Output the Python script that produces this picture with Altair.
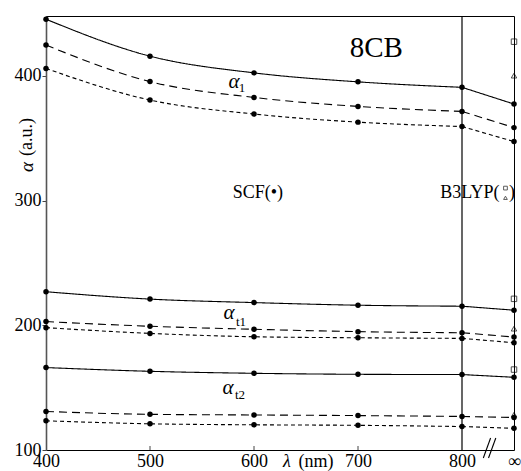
import altair as alt
import pandas as pd

FONT = "Liberation Serif, Times New Roman, Times, serif"

# ---------------- data ----------------
wavelengths = [400, 500, 600, 700, 800]
INF_POS = 850  # axis position used for the "infinity" column

series_names = ["a1_solid", "a1_dash", "a1_dot",
                "at1_solid", "at1_dash", "at1_dot",
                "at2_solid", "at2_dash", "at2_dot"]
series_styles = ["solid", "dashed", "dotted"] * 3

a1_solid = [445.4, 415.8, 402.4, 395.2, 390.8]
a1_dash = [424.7, 395.4, 382.7, 375.5, 371.5]
a1_dot = [405.9, 380.6, 369.4, 362.9, 359.4]
at1_solid = [226.9, 221.0, 218.2, 216.1, 215.3]
at1_dash = [203.0, 199.2, 196.8, 194.9, 194.0]
at1_dot = [198.1, 193.5, 190.8, 190.0, 189.5]
at2_solid = [166.1, 163.1, 161.5, 160.7, 160.5]
at2_dash = [130.9, 128.6, 128.1, 127.6, 126.9]
at2_dot = [123.4, 121.0, 120.2, 119.8, 118.8]
series_values = [a1_solid, a1_dash, a1_dot, at1_solid, at1_dash, at1_dot,
                 at2_solid, at2_dash, at2_dot]
inf_values = [377.4, 358.5, 347.3, 212.1, 190.6, 186.0, 158.3, 126.1, 117.4]

b3lyp_square = [427.4, 221.2, 164.5]
b3lyp_triangle = [400.2, 197.3, 128.3]

x_ticks = [400, 500, 600, 700, 800, INF_POS]
y_ticks = [100, 200, 300, 400]

# ---------------- tables ----------------
curve_rows, tail_rows, point_rows = [], [], []
for name, style, vals, inf in zip(series_names, series_styles, series_values, inf_values):
    for w, v in zip(wavelengths, vals):
        curve_rows.append(dict(series=name, style=style, x=w, y=v))
        point_rows.append(dict(x=w, y=v))
    tail_rows.append(dict(series=name, style=style, x=wavelengths[-1], y=vals[-1]))
    tail_rows.append(dict(series=name, style=style, x=INF_POS, y=inf))
    point_rows.append(dict(x=INF_POS, y=inf))
curve_df = pd.DataFrame(curve_rows)
tail_df = pd.DataFrame(tail_rows)
point_df = pd.DataFrame(point_rows)
sq_df = pd.DataFrame(dict(x=[INF_POS] * 3, y=b3lyp_square))
tri_df = pd.DataFrame(dict(x=[INF_POS] * 3, y=b3lyp_triangle))

X = alt.X("x:Q", title=None,
          scale=alt.Scale(domain=[400, INF_POS], nice=False, zero=False),
          axis=alt.Axis(values=x_ticks, labelExpr="datum.value == 850 ? '∞' : datum.label",
                        ticks=False, domain=False, grid=False, labelPadding=2,
                        labelFont=FONT, labelFontSize=18, labelColor="black",
                        labelFlush=False))
Y = alt.Y("y:Q", title=None,
          scale=alt.Scale(domain=[100, 448], nice=False, zero=False),
          axis=alt.Axis(values=y_ticks, tickSize=4, tickColor="#444", labelPadding=1,
                        domain=True, domainColor="#555", domainWidth=1.6, grid=False,
                        labelFont=FONT, labelFontSize=18, labelColor="black"))

dash = alt.StrokeDash("style:N", legend=None,
                      scale=alt.Scale(domain=["solid", "dashed", "dotted"],
                                      range=[[1, 0], [8, 5], [4, 3]]))

curves = alt.Chart(curve_df).mark_line(interpolate="monotone", color="black",
                                       strokeWidth=1.1).encode(
    x=X, y=Y, detail="series:N", strokeDash=dash)
tails = alt.Chart(tail_df).mark_line(color="black", strokeWidth=1.1).encode(
    x=X, y=Y, detail="series:N", strokeDash=dash)
dots = alt.Chart(point_df).mark_circle(color="black", size=30, opacity=1).encode(x=X, y=Y)
squares = alt.Chart(sq_df).mark_point(shape="square", filled=False, color="black",
                                      size=30, strokeWidth=1).encode(x=X, y=Y)
tris = alt.Chart(tri_df).mark_point(shape="triangle-up", filled=False, color="black",
                                    size=30, strokeWidth=1).encode(x=X, y=Y)

vline = alt.Chart(pd.DataFrame(dict(x=[800]))).mark_rule(color="black", strokeWidth=1.2).encode(x=X)
xticks = alt.Chart(pd.DataFrame(dict(x=wavelengths[1:4]))).mark_rule(
    color="#444", strokeWidth=1).encode(x=X, y=alt.value(434), y2=alt.value(430))

# axis-break marks "//"
brk = alt.Chart(pd.DataFrame(dict(x=[820.5, 825.5], x2=[827.5, 832.5]))).mark_rule(
    color="black", strokeWidth=1.1).encode(
    x=X, x2="x2:Q", y=alt.value(442), y2=alt.value(422))


def label(text, x, y, size, style="normal", align="center"):
    df = pd.DataFrame(dict(x=[x], y=[y], t=[text]))
    return alt.Chart(df).mark_text(font=FONT, fontSize=size, fontStyle=style, color="black",
                                   align=align, baseline="middle").encode(
        x=X, y=Y, text="t:N")


def pxlabel(text, px, py, size, style="normal", angle=0):
    df = pd.DataFrame(dict(t=[text]))
    kw = dict(font=FONT, fontSize=size, fontStyle=style, color="black",
              align="center", baseline="middle")
    if angle:
        kw["angle"] = angle
    return alt.Chart(df).mark_text(**kw).encode(
        x=alt.value(px), y=alt.value(py), text="t:N")


texts = [
    label("8CB", 717.6, 422.3, 29),
    label("SCF(•)", 603.8, 306.0, 18),
    label("B3LYP(", 836.0, 306.0, 18, align="right"),
    label(")", 848.0, 306.0, 18),
    label("α", 580.8, 395.1, 21, "italic"),
    label("1", 588.5, 390.3, 13),
    label("α", 576.0, 209.8, 21, "italic"),
    label("t1", 587.5, 202.6, 13),
    label("α", 575.0, 149.7, 21, "italic"),
    label("t2", 586.5, 144.1, 13),
    pxlabel("λ", 241, 446, 18, "italic"),
    pxlabel("(nm)", 270, 446, 18),
    pxlabel("α", -19, 151, 19, "italic", 270),
    pxlabel("(a.u.)", -19, 121, 18, angle=270),
]

legend_sq = alt.Chart(pd.DataFrame(dict(x=[841.8], y=[310.0]))).mark_point(
    shape="square", filled=False, color="black", size=14, strokeWidth=0.9).encode(x=X, y=Y)
legend_tri = alt.Chart(pd.DataFrame(dict(x=[841.8], y=[302.2]))).mark_point(
    shape="triangle-up", filled=False, color="black", size=14, strokeWidth=0.9).encode(x=X, y=Y)

chart = alt.layer(
    vline, xticks, curves, tails, dots, squares, tris, brk, legend_sq, legend_tri, *texts
).properties(
    width=468, height=434,
    padding={"left": 46, "top": 16, "right": 7, "bottom": 21},
    autosize=alt.AutoSizeParams(type="none"),
).configure_view(stroke="black", strokeWidth=1)

chart.save("out.html", embed_options={"renderer": "svg", "actions": False})
